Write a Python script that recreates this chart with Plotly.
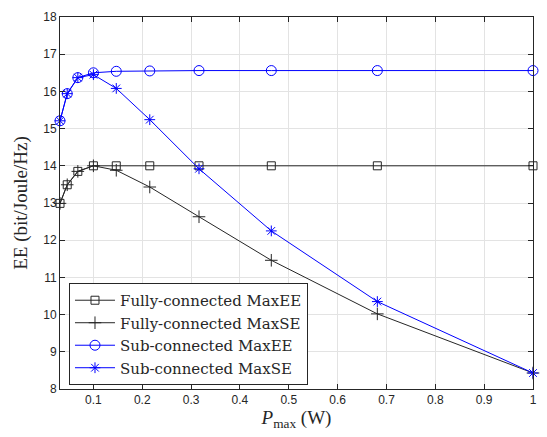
import plotly.graph_objects as go

p_max = [0.0316, 0.0464, 0.0681, 0.1, 0.1468, 0.2154, 0.3162, 0.4642, 0.6813, 1.0]
fully_maxee = [12.99, 13.49, 13.85, 14.0, 14.0, 14.0, 14.0, 14.0, 14.0, 14.0]
fully_maxse = [12.99, 13.49, 13.85, 14.0, 13.88, 13.43, 12.63, 11.46, 10.02, 8.43]
sub_maxee = [15.21, 15.94, 16.37, 16.5, 16.54, 16.55, 16.56, 16.56, 16.56, 16.56]
sub_maxse = [15.21, 15.94, 16.37, 16.45, 16.08, 15.24, 13.92, 12.25, 10.35, 8.43]

names = ["Fully-connected MaxEE", "Fully-connected MaxSE",
         "Sub-connected MaxEE", "Sub-connected MaxSE"]

SERIF = "Liberation Serif, DejaVu Serif, serif"
fig = go.Figure()
styles = [
    (fully_maxee, "#262626", "square-open", 8),
    (fully_maxse, "#262626", "cross-thin-open", 9),
    (sub_maxee, "#0000ff", "circle-open", 10),
    (sub_maxse, "#0000ff", "asterisk-open", 9),
]
for name, (ys, col, sym, sz) in zip(names, styles):
    fig.add_trace(go.Scatter(
        x=p_max, y=ys, name=name, mode="lines+markers", cliponaxis=False,
        line=dict(color=col, width=1),
        marker=dict(symbol=sym, size=sz, color=col, line=dict(color=col, width=1)),
    ))

axis_common = dict(
    showline=True, linecolor="#262626", linewidth=1, mirror="allticks",
    ticks="inside", ticklen=5, tickcolor="#262626",
    showgrid=True, gridcolor="#e3e3e3", gridwidth=1, zeroline=False,
    tickfont=dict(family="Liberation Sans, Arial, sans-serif", size=12, color="#262626"),
)

fig.update_xaxes(range=[0.0316, 1.0], tickvals=[0.1, 0.2, 0.3, 0.4, 0.5, 0.6, 0.7, 0.8, 0.9, 1.0],
                 ticktext=["0.1", "0.2", "0.3", "0.4", "0.5", "0.6", "0.7", "0.8", "0.9", "1"],
                 title=dict(text="<i>P</i><sub>max</sub> (W)",
                            font=dict(family=SERIF, size=19, color="#262626"),
                            standoff=2),
                 **axis_common)
fig.update_yaxes(range=[8, 18], dtick=1,
                 title=dict(text="EE (bit/Joule/Hz)",
                            font=dict(family=SERIF, size=19, color="#262626"),
                            standoff=10),
                 **axis_common)

fig.update_layout(
    width=547, height=437,
    margin=dict(l=60, r=10, t=14, b=48),
    plot_bgcolor="white", paper_bgcolor="white",
    legend=dict(x=0.019, y=0.285, xanchor="left", yanchor="top",
                bgcolor="white", bordercolor="#262626", borderwidth=1,
                font=dict(family="DejaVu Serif, serif", size=15, color="#262626"),
                tracegroupgap=0, itemwidth=40),
    showlegend=True,
)

fig.write_html("out.html")
